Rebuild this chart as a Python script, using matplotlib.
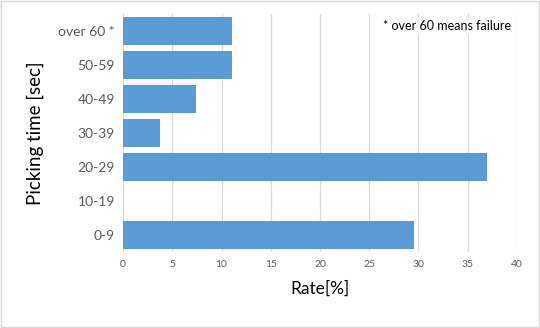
import matplotlib
matplotlib.use("Agg")
import matplotlib.pyplot as plt

categories = ["0-9", "10-19", "20-29", "30-39", "40-49", "50-59", "over 60 *"]
rates = [29.6, 0.0, 37.0, 3.7, 7.4, 11.1, 11.1]
xticks = [0, 5, 10, 15, 20, 25, 30, 35, 40]

plt.rcParams["font.family"] = ["Lato", "DejaVu Sans"]

fig = plt.figure(figsize=(5.4, 3.28), dpi=100)
fig.patches.append(plt.Rectangle((0.002, 0.003), 0.996, 0.994, transform=fig.transFigure,
                                 fill=False, edgecolor="#D9D9D9", lw=1))
ax = fig.add_axes([0.228, 0.232, 0.729, 0.726])

ypos = range(len(categories))
ax.barh(ypos, rates, height=0.82, color="#5B9BD5", zorder=2)
ax.set_yticks(list(ypos))
ax.set_yticklabels(categories, fontsize=10, color="#595959")
ax.set_xticks(xticks)
ax.set_xticklabels([str(t) for t in xticks], fontsize=7.5, color="#595959")
ax.set_xlim(0, 40)
ax.set_ylim(-0.5, len(categories) - 0.5)
ax.grid(axis="x", color="#D9D9D9", lw=0.9, zorder=0)
ax.tick_params(length=0, pad=6)
for s in ax.spines.values():
    s.set_visible(False)

ax.set_xlabel("Rate[%]", fontsize=12.5, labelpad=8)
ax.set_ylabel("Picking time [sec]", fontsize=13.5, labelpad=10)
ax.text(0.985, 0.975, "* over 60 means failure", transform=ax.transAxes, ha="right", va="top",
        fontsize=9, color="black", zorder=3,
        bbox=dict(facecolor="white", edgecolor="none", pad=2))

fig.savefig("out.png", dpi=100)
